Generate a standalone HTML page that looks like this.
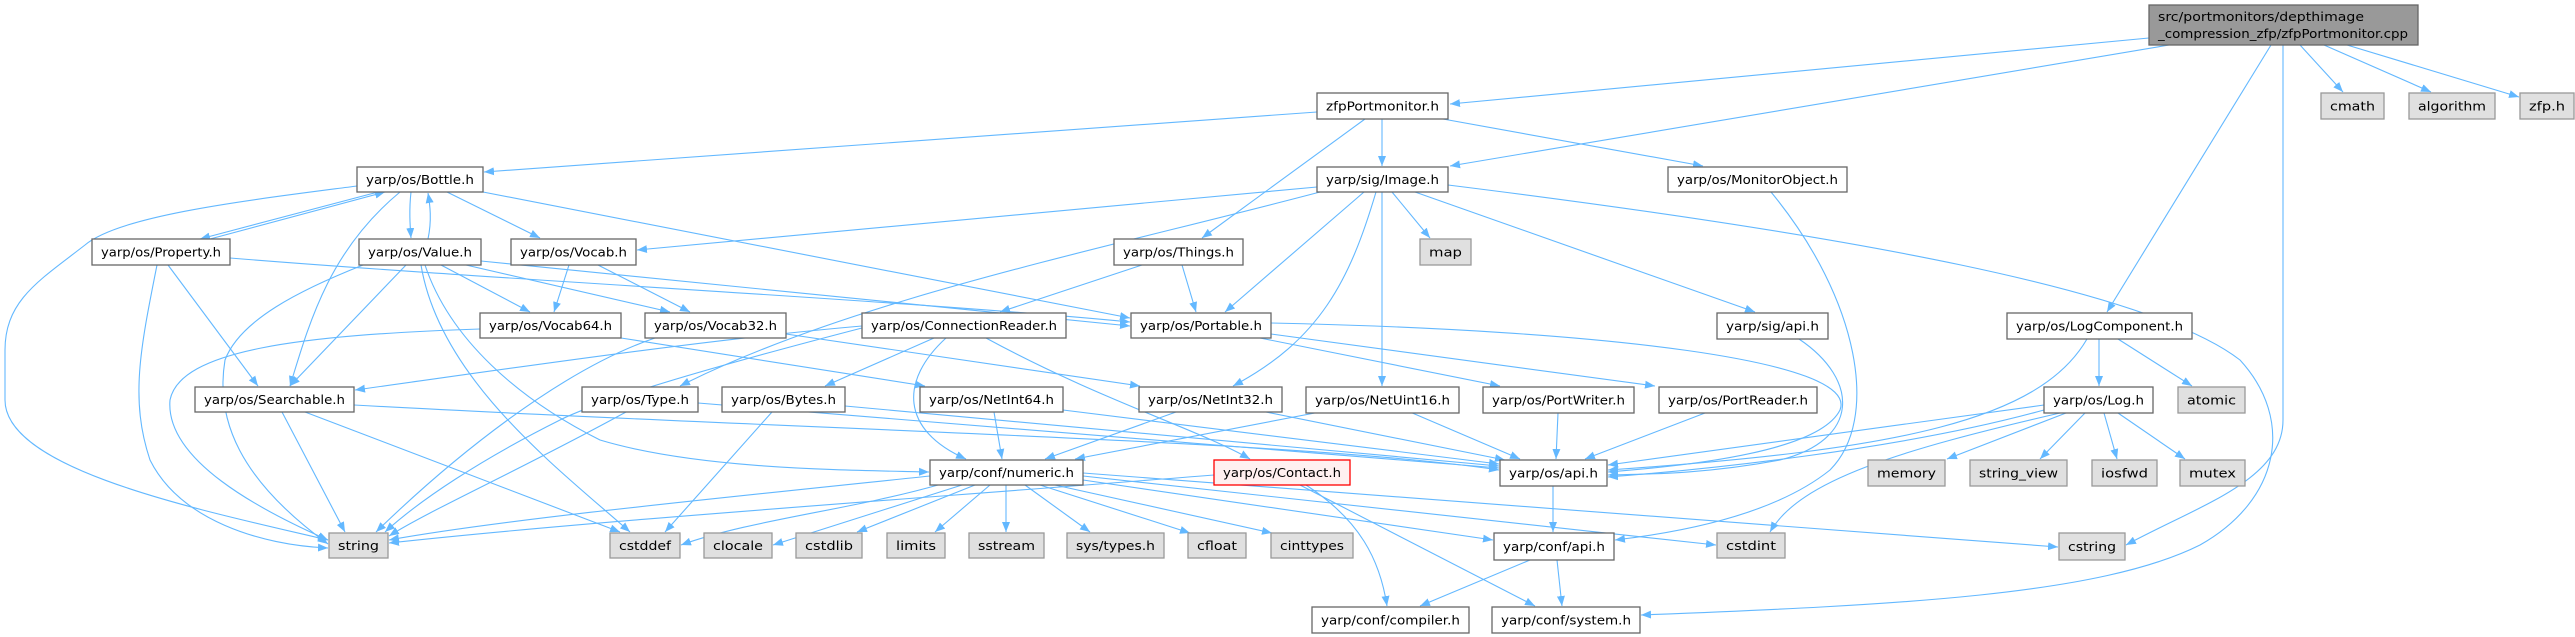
<!DOCTYPE html>
<html><head><meta charset="utf-8"><style>
html,body{margin:0;padding:0;background:#fff;}
svg{display:block;}
text{font-family:"DejaVu Sans","Liberation Sans",sans-serif;font-size:12px;fill:#000;}
.n{fill:#fff;stroke:#666;stroke-width:1.3;}
.g{fill:#e0e0e0;stroke:#999;stroke-width:1.3;}
.r{fill:#fff0f0;stroke:#f00;stroke-width:1.3;}
.rt{fill:#999;stroke:#666;stroke-width:1.3;}
path.e{fill:none;stroke:#63b8ff;stroke-width:1.1;marker-end:url(#a);}
</style></head><body>
<svg width="2575" height="637" viewBox="0 0 2575 637" xmlns="http://www.w3.org/2000/svg">
<defs><marker id="a" markerUnits="userSpaceOnUse" markerWidth="11" markerHeight="8" refX="10" refY="4" orient="auto"><path d="M0,0 L10,4 L0,8 z" fill="#63b8ff"/></marker></defs>
<g>
<path class="e" d="M2149,38 L1450,104"/>
<path class="e" d="M2169,45 L1450,166"/>
<path class="e" d="M2271,45 L2107,312"/>
<path class="e" d="M2283,45 L2283,420 C2283,480 2200,505 2126,545"/>
<path class="e" d="M2300,45 L2343,92"/>
<path class="e" d="M2324,45 L2431,92"/>
<path class="e" d="M2347,45 L2519,97"/>
<path class="e" d="M1317,112 L484,172"/>
<path class="e" d="M1382,119 L1382,166"/>
<path class="e" d="M1365,119 L1202,238"/>
<path class="e" d="M1443,119 L1703,166"/>
<path class="e" d="M378,192 L200,239"/>
<path class="e" d="M210,239 L385,192"/>
<path class="e" d="M411,192 C409,210 410,225 411,238"/>
<path class="e" d="M428,239 C432,220 430,205 428,193"/>
<path class="e" d="M447,192 L540,238"/>
<path class="e" d="M483,192 L1130,318"/>
<path class="e" d="M400,192 C330,250 310,320 290,386"/>
<path class="e" d="M357,186 C250,200 120,215 85,245 C40,280 5,300 5,350 L5,400 C5,470 200,510 328,540"/>
<path class="e" d="M168,265 L258,386"/>
<path class="e" d="M157,265 C140,350 130,400 150,460 C180,520 260,545 328,548"/>
<path class="e" d="M230,258 C500,280 900,300 1130,322"/>
<path class="e" d="M406,265 L290,386"/>
<path class="e" d="M363,265 C300,290 240,320 225,360 C215,420 240,480 328,544"/>
<path class="e" d="M421,265 C440,380 560,470 630,532"/>
<path class="e" d="M425,265 C450,340 520,400 600,440 C700,470 850,470 929,472"/>
<path class="e" d="M441,265 L530,312"/>
<path class="e" d="M466,265 L670,312"/>
<path class="e" d="M481,261 L1130,326"/>
<path class="e" d="M569,265 L554,312"/>
<path class="e" d="M598,265 L690,312"/>
<path class="e" d="M480,329 C300,335 180,350 170,400 C165,460 260,510 328,540"/>
<path class="e" d="M621,338 L925,386"/>
<path class="e" d="M655,338 C560,370 450,460 376,532"/>
<path class="e" d="M786,334 L1140,386"/>
<path class="e" d="M1317,187 L637,250"/>
<path class="e" d="M1320,192 C1100,250 850,300 680,386"/>
<path class="e" d="M1364,192 L1225,312"/>
<path class="e" d="M1376,192 C1350,280 1320,340 1233,386"/>
<path class="e" d="M1382,192 L1382,386"/>
<path class="e" d="M1392,192 L1430,238"/>
<path class="e" d="M1415,192 L1755,312"/>
<path class="e" d="M1448,185 C1850,235 2150,290 2240,360 C2295,420 2280,500 2200,545 C2100,595 1900,605 1641,615"/>
<path class="e" d="M1142,265 L1000,312"/>
<path class="e" d="M1182,265 L1196,312"/>
<path class="e" d="M862,326 C700,340 500,370 355,390"/>
<path class="e" d="M862,328 C700,370 600,400 560,420 C480,460 420,500 385,532"/>
<path class="e" d="M934,338 L825,386"/>
<path class="e" d="M946,338 C900,380 900,430 966,459"/>
<path class="e" d="M986,338 C1100,400 1200,430 1250,459"/>
<path class="e" d="M1271,323 C1600,330 1860,360 1840,410 C1820,450 1700,465 1608,472"/>
<path class="e" d="M1260,338 L1500,386"/>
<path class="e" d="M1271,334 L1655,386"/>
<path class="e" d="M282,412 L345,532"/>
<path class="e" d="M305,412 L620,532"/>
<path class="e" d="M354,405 C800,430 1300,440 1499,470"/>
<path class="e" d="M626,412 C520,470 430,510 389,536"/>
<path class="e" d="M698,403 L1499,468"/>
<path class="e" d="M772,412 L665,532"/>
<path class="e" d="M845,406 L1499,466"/>
<path class="e" d="M994,412 L1002,459"/>
<path class="e" d="M1063,410 L1499,464"/>
<path class="e" d="M1176,412 L1045,459"/>
<path class="e" d="M1266,412 L1505,460"/>
<path class="e" d="M1320,412 L1075,459"/>
<path class="e" d="M1410,412 L1520,459"/>
<path class="e" d="M1558,413 L1556,459"/>
<path class="e" d="M1705,413 L1585,459"/>
<path class="e" d="M1771,192 C1860,300 1880,420 1830,470 C1780,510 1700,530 1615,540"/>
<path class="e" d="M1799,339 C1860,380 1860,440 1780,460 C1700,475 1640,474 1608,475"/>
<path class="e" d="M2087,339 C2040,420 1900,450 1608,470"/>
<path class="e" d="M2099,339 L2099,386"/>
<path class="e" d="M2118,339 L2192,386"/>
<path class="e" d="M2044,405 L1608,465"/>
<path class="e" d="M2044,410 C1900,450 1700,470 1608,477"/>
<path class="e" d="M2066,413 L1947,459"/>
<path class="e" d="M2085,413 L2040,459"/>
<path class="e" d="M2104,413 L2117,459"/>
<path class="e" d="M2118,413 L2185,459"/>
<path class="e" d="M2060,413 C1900,450 1800,480 1770,532"/>
<path class="e" d="M930,476 C700,500 500,520 389,540"/>
<path class="e" d="M938,485 C850,510 750,520 681,545"/>
<path class="e" d="M962,485 L773,545"/>
<path class="e" d="M975,485 L857,532"/>
<path class="e" d="M990,485 L935,532"/>
<path class="e" d="M1006,485 L1006,532"/>
<path class="e" d="M1025,485 L1090,532"/>
<path class="e" d="M1040,485 L1190,533"/>
<path class="e" d="M1055,485 L1272,533"/>
<path class="e" d="M1083,480 L1493,540"/>
<path class="e" d="M1083,476 L1716,545"/>
<path class="e" d="M1083,473 L2058,547"/>
<path class="e" d="M1214,475 C900,500 600,520 389,543"/>
<path class="e" d="M1306,485 C1360,520 1380,560 1387,606"/>
<path class="e" d="M1300,485 L1535,606"/>
<path class="e" d="M1553,486 L1553,532"/>
<path class="e" d="M1530,560 L1420,606"/>
<path class="e" d="M1557,560 L1562,606"/>
</g>
<g>
<rect class="rt" x="2149" y="5" width="269" height="40"/>
<text x="2158" y="21" textLength="206" lengthAdjust="spacingAndGlyphs">src/portmonitors/depthimage</text>
<text x="2158" y="38" textLength="250" lengthAdjust="spacingAndGlyphs">_compression_zfp/zfpPortmonitor.cpp</text>
</g>
<g id="nodes"></g>
<script>
const N=[
["zfpPortmonitor.h",1317,1448,93,119,"n"],["cmath",2321,2384,93,119,"g"],["algorithm",2409,2495,93,119,"g"],["zfp.h",2520,2574,93,119,"g"],
["yarp/os/Bottle.h",357,483,167,192,"n"],["yarp/sig/Image.h",1317,1448,167,192,"n"],["yarp/os/MonitorObject.h",1668,1847,167,192,"n"],
["yarp/os/Property.h",92,230,239,265,"n"],["yarp/os/Value.h",359,481,239,265,"n"],["yarp/os/Vocab.h",511,636,239,265,"n"],["yarp/os/Things.h",1114,1243,239,265,"n"],["map",1420,1471,239,265,"g"],
["yarp/os/Vocab64.h",480,621,313,338,"n"],["yarp/os/Vocab32.h",645,786,313,338,"n"],["yarp/os/ConnectionReader.h",862,1066,313,338,"n"],["yarp/os/Portable.h",1131,1271,313,338,"n"],["yarp/sig/api.h",1717,1828,313,339,"n"],["yarp/os/LogComponent.h",2007,2192,313,339,"n"],
["yarp/os/Searchable.h",195,354,387,412,"n"],["yarp/os/Type.h",582,698,387,412,"n"],["yarp/os/Bytes.h",722,845,387,412,"n"],["yarp/os/NetInt64.h",920,1063,387,412,"n"],["yarp/os/NetInt32.h",1139,1282,387,412,"n"],["yarp/os/NetUint16.h",1306,1459,387,413,"n"],["yarp/os/PortWriter.h",1483,1634,387,413,"n"],["yarp/os/PortReader.h",1659,1817,387,413,"n"],["yarp/os/Log.h",2044,2153,387,413,"n"],["atomic",2178,2245,387,413,"g"],
["yarp/conf/numeric.h",930,1083,460,485,"n"],["yarp/os/Contact.h",1214,1350,460,485,"r"],["yarp/os/api.h",1500,1607,460,486,"n"],["memory",1868,1945,460,486,"g"],["string_view",1970,2067,460,486,"g"],["iosfwd",2092,2157,460,486,"g"],["mutex",2180,2245,460,486,"g"],
["string",329,388,533,558,"g"],["cstddef",610,680,533,558,"g"],["clocale",704,772,533,558,"g"],["cstdlib",796,862,533,558,"g"],["limits",887,945,533,558,"g"],["sstream",969,1044,533,558,"g"],["sys/types.h",1067,1164,533,558,"g"],["cfloat",1188,1246,533,558,"g"],["cinttypes",1271,1353,533,558,"g"],["yarp/conf/api.h",1494,1614,533,560,"n"],["cstdint",1717,1785,533,558,"g"],["cstring",2059,2125,533,560,"g"],
["yarp/conf/compiler.h",1312,1469,607,633,"n"],["yarp/conf/system.h",1492,1640,607,633,"n"]];
</script>
</svg>
<script>
(function(){const g=document.getElementById('nodes');const ns='http://www.w3.org/2000/svg';
for(const [t,x1,x2,y1,y2,c] of N){const r=document.createElementNS(ns,'rect');r.setAttribute('x',x1);r.setAttribute('y',y1);r.setAttribute('width',x2-x1);r.setAttribute('height',y2-y1);r.setAttribute('class',c);g.appendChild(r);
const tx=document.createElementNS(ns,'text');tx.setAttribute('x',(x1+x2)/2);tx.setAttribute('y',(y1+y2)/2+4.5);tx.setAttribute('text-anchor','middle');tx.setAttribute('textLength',Math.max(10,x2-x1-18));tx.setAttribute('lengthAdjust','spacingAndGlyphs');tx.textContent=t;g.appendChild(tx);}})();
</script>
</body></html>
